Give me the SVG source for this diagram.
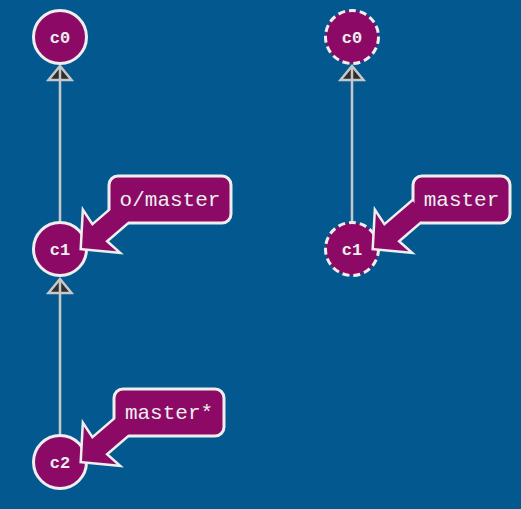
<svg xmlns="http://www.w3.org/2000/svg" width="521" height="509" viewBox="0 0 521 509">
  <defs>
    <style>
      .node circle { fill: #8c0a66; stroke: #eeeeee; stroke-width: 3; }
      .node.dashed circle { stroke-dasharray: 7 4; }
      .node text { font-family: "Liberation Mono", "DejaVu Sans Mono", monospace; font-weight: bold; font-size: 17px; fill: #eeeeee; text-anchor: middle; }
      .edge { stroke: #c8c8c8; stroke-width: 2.5; fill: none; }
      .cal { fill: #8c0a66; stroke: #eeeeee; stroke-width: 5; stroke-linejoin: miter; stroke-miterlimit: 6; }
      .calfill { fill: #8c0a66; stroke: none; }
      .box { fill: #8c0a66; stroke: #eeeeee; stroke-width: 3; }
      .lbl { font-family: "Liberation Mono", "DejaVu Sans Mono", monospace; font-size: 21px; fill: #eeeeee; text-anchor: middle; }
    </style>
    <marker id="ah" markerUnits="userSpaceOnUse" viewBox="-18 -15 22 30" markerWidth="22" markerHeight="30" refX="0" refY="0" orient="auto">
      <path d="M0,0 L-14,-11.5 L-14,11.5 Z" fill="#2e2e2e" stroke="#c8c8c8" stroke-width="2.5" stroke-linejoin="miter"/>
      <path d="M-14,0 L0,0" stroke="#c8c8c8" stroke-width="2.5"/>
    </marker>
    <path id="callout" d="M0,0 L24,-25 L22,-10 L60,-10 L60,10 L22,10 L24,25 Z"/>
  </defs>
  <rect width="521" height="509" fill="#03588f"/>

  <g id="connectors">
    <path class="edge" d="M60,222 L60,66" marker-end="url(#ah)"/>
    <path class="edge" d="M60,435 L60,279" marker-end="url(#ah)"/>
    <path class="edge" d="M352,222 L352,66" marker-end="url(#ah)"/>
  </g>

  <g id="node-left-c0" class="node"><circle cx="60" cy="37" r="26.5"/><text x="60" y="43">c0</text></g>
  <g id="node-left-c1" class="node"><circle cx="60" cy="249" r="26.5"/><text x="60" y="255">c1</text></g>
  <g id="node-left-c2" class="node"><circle cx="60" cy="462" r="26.5"/><text x="60" y="468">c2</text></g>
  <g id="node-right-c0" class="node dashed"><circle cx="352" cy="37" r="26.5"/><text x="352" y="43">c0</text></g>
  <g id="node-right-c1" class="node dashed"><circle cx="352" cy="249" r="26.5"/><text x="352" y="255">c1</text></g>

  <g id="label-omaster">
    <use href="#callout" class="cal" transform="translate(82,248) rotate(-40.7)"/>
    <rect class="box" x="109" y="176" width="122" height="47" rx="9"/>
    <use href="#callout" class="calfill" transform="translate(82,248) rotate(-40.7)"/>
    <text class="lbl" x="170" y="206">o/master</text>
  </g>
  <g id="label-master-star">
    <use href="#callout" class="cal" transform="translate(82,461) rotate(-40.7)"/>
    <rect class="box" x="114" y="389" width="110" height="47" rx="9"/>
    <use href="#callout" class="calfill" transform="translate(82,461) rotate(-40.7)"/>
    <text class="lbl" x="169" y="419">master*</text>
  </g>
  <g id="label-master">
    <use href="#callout" class="cal" transform="translate(374,248) rotate(-40.7)"/>
    <rect class="box" x="413" y="176" width="97" height="47" rx="9"/>
    <use href="#callout" class="calfill" transform="translate(374,248) rotate(-40.7)"/>
    <text class="lbl" x="461.5" y="206">master</text>
  </g>
</svg>
